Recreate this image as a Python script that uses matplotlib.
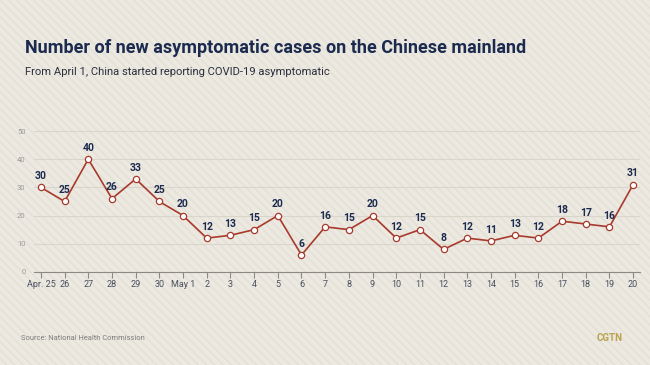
import matplotlib
matplotlib.use("Agg")
import matplotlib.pyplot as plt
from matplotlib.patches import Rectangle

# data
dates = ["Apr. 25", "26", "27", "28", "29", "30", "May 1", "2", "3", "4", "5", "6", "7",
         "8", "9", "10", "11", "12", "13", "14", "15", "16", "17", "18", "19", "20"]
cases = [30, 25, 40, 26, 33, 25, 20, 12, 13, 15, 20, 6, 16,
         15, 20, 12, 15, 8, 12, 11, 13, 12, 18, 17, 16, 31]
yticks = [0, 10, 20, 30, 40, 50]

bg = "#ece9e1"
navy = "#1b2a4e"
red = "#a83a2c"

plt.rcParams["font.family"] = ["Roboto", "DejaVu Sans"]
plt.rcParams["hatch.linewidth"] = 1.2

fig = plt.figure(figsize=(6.5, 3.65), dpi=100, facecolor=bg)
# faint striped background
fig.patches.append(Rectangle((0, 0), 1, 1, transform=fig.transFigure, facecolor=bg,
                             edgecolor="#e5e1d8", hatch="\\\\\\\\", linewidth=0, zorder=-10))

ax = fig.add_axes([0.052, 0.255, 0.933, 0.386])
ax.set_facecolor("none")

x = list(range(len(dates)))
ax.plot(x, cases, color=red, lw=1.2, marker="o", ms=4.5, mfc="white", mec=red, mew=0.9, zorder=3)
for xi, v in zip(x, cases):
    ax.annotate(str(v), (xi, v), xytext=(0, 4.5), textcoords="offset points", ha="center",
                va="bottom", fontsize=7.5, fontweight="bold", color=navy, zorder=4)

ax.set_xlim(-0.3, len(dates) - 0.7)
ax.set_ylim(0, 50)
ax.set_yticks(yticks)
ax.set_xticks(x)
ax.set_xticklabels(dates)
ax.grid(axis="y", color="#d9d5cb", lw=0.8)
ax.set_axisbelow(True)
for s in ["top", "right", "left"]:
    ax.spines[s].set_visible(False)
ax.spines["bottom"].set_color("#8c8a85")
ax.spines["bottom"].set_linewidth(0.8)
ax.tick_params(axis="x", length=4, width=0.8, color="#8c8a85", labelsize=6.5,
               labelcolor="#4a4f5e", pad=2)
ax.tick_params(axis="y", length=0, labelsize=5.5, labelcolor="#9a9a9a", pad=6)

fig.text(0.038, 0.868, "Number of new asymptomatic cases on the Chinese mainland",
         fontsize=13, fontweight="bold", color=navy, va="center")
fig.text(0.038, 0.803, "From April 1, China started reporting COVID-19 asymptomatic",
         fontsize=8.1, color="#2a2f3d", va="center")
fig.text(0.032, 0.073, "Source: National Health Commission", fontsize=5.4,
         color="#7c7c7c", va="center")
fig.text(0.958, 0.073, "CGTN", fontsize=7, fontweight="bold", color="#b9a34c",
         ha="right", va="center")

fig.savefig("out.png", dpi=100, facecolor=bg)
